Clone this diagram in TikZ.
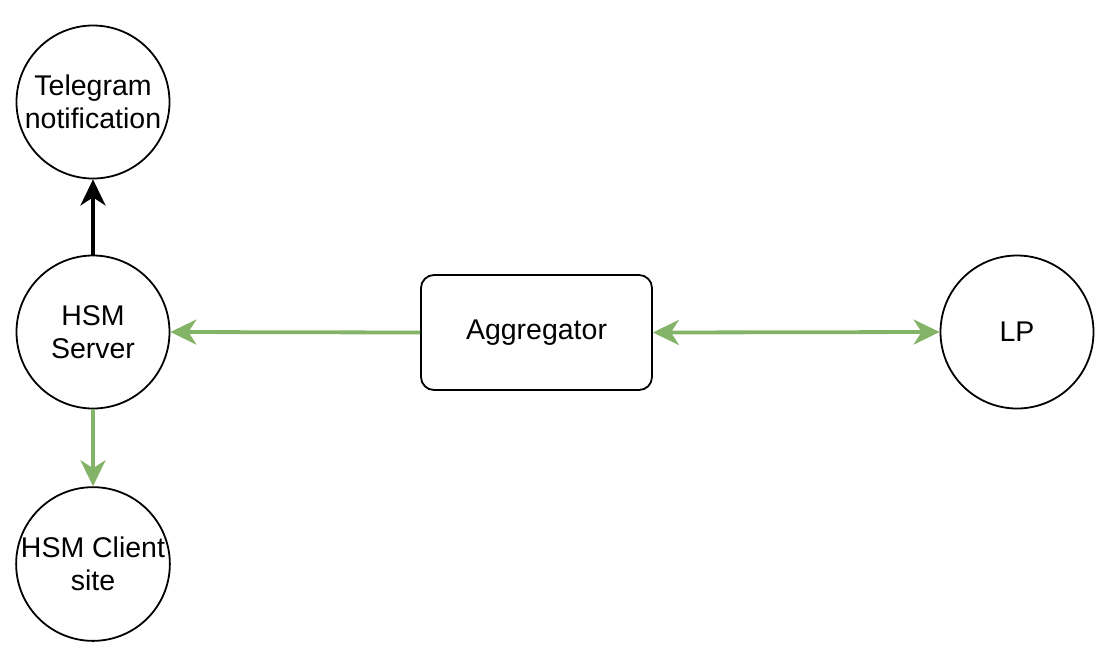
\documentclass[tikz,border=0pt]{standalone}
\usepackage{fontspec}
\setmainfont{Liberation Sans}
\usetikzlibrary{arrows.meta}
\definecolor{dgreen}{HTML}{82B366}
\begin{document}
\begin{tikzpicture}[x=1pt,y=-1pt,
  circ/.style={circle,draw=black,line width=1.8pt,minimum size=153pt,inner sep=0pt,align=center,font=\fontsize{28.5}{33}\selectfont},
  boxn/.style={rectangle,rounded corners=13pt,draw=black,line width=1.8pt,minimum width=231pt,minimum height=115pt,inner sep=0pt,font=\fontsize{28.5}{33}\selectfont},
  ahead/.tip={Stealth[length=26pt,width=25pt,inset=8pt]},
  tip/.style={-ahead},
  gline/.style={draw=dgreen,line width=3.8pt},
  bline/.style={draw=black,line width=3.8pt}]
\useasboundingbox (0,0) rectangle (1105,649);
\node[circ] (tg) at (93,102) {Telegram\\notification};
\node[circ] (hs) at (93,332) {HSM\\Server};
\node[circ] (hc) at (93,564) {HSM Client\\site};
\node[circ] (lp) at (1017,332) {LP};
\node[boxn] (ag) at (536.5,332.5) {Aggregator};
\draw[bline,tip] (hs.north) -- (tg.south);
\draw[gline,tip] (ag.west) -- (hs.east);
\draw[gline,tip] (hs.south) -- (hc.north);
\draw[gline,ahead-ahead] (ag.east) -- (lp.west);
\end{tikzpicture}
\end{document}
